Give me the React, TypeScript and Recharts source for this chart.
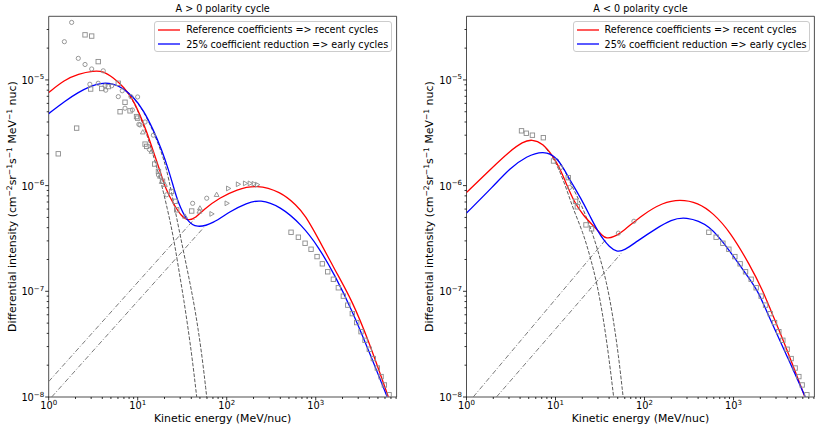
import React from 'react';
import { ComposedChart, Line, Scatter, XAxis, YAxis, ReferenceArea, Legend, Customized } from 'recharts';

type Pt = [number, number];

// ---- A > 0 panel ----
const posRef: Pt[] = [
  [1, 7.6e-6], [1.5, 1.0e-5], [2.15, 1.14e-5], [3.2, 1.22e-5], [4.1, 1.21e-5], [5.3, 1.05e-5],
  [6.9, 8.65e-6], [8.9, 6.5e-6], [10.6, 4.67e-6], [12.6, 3.25e-6], [15, 2.1e-6], [17.9, 1.36e-6],
  [20.8, 9.1e-7], [25, 6.8e-7], [31, 5.1e-7], [37, 4.65e-7], [45, 4.95e-7], [54, 5.9e-7],
  [84, 7.7e-7], [129, 9.2e-7], [216, 1.02e-6], [400, 8.8e-7], [612, 6.5e-7], [759, 5.25e-7],
  [1070, 3.16e-7], [1650, 1.58e-7], [2537, 8.3e-8], [3900, 3.47e-8], [6545, 1.0e-8],
];
const posLow: Pt[] = [
  [1, 4.8e-6], [1.52, 6.3e-6], [2.15, 7.65e-6], [3.04, 8.8e-6], [3.77, 9.35e-6], [5.3, 9.3e-6],
  [6.9, 8.3e-6], [8.9, 6.95e-6], [11.6, 5.2e-6], [15, 3.37e-6], [18.6, 2.18e-6], [22.2, 1.41e-6],
  [25, 1.0e-6], [28.6, 6.8e-7], [35.5, 4.65e-7], [46, 3.95e-7], [71, 4.4e-7], [108, 5.7e-7],
  [168, 6.85e-7], [236, 7.4e-7], [397, 6.4e-7], [697, 4.25e-7], [1070, 2.65e-7], [1648, 1.41e-7],
  [2537, 6.7e-8], [3900, 2.8e-8], [6350, 1.0e-8],
];
const posRefJov: Pt[] = [
  [6.9, 8.55e-6], [8.9, 6.4e-6], [10.6, 4.55e-6], [12.6, 3.1e-6], [15, 1.92e-6], [17.9, 1.15e-6],
  [19.4, 8.7e-7], [21.2, 6.4e-7], [25, 3.4e-7], [28.6, 1.7e-7], [33, 8.3e-8], [38, 3.7e-8],
  [42, 1.95e-8], [46, 1.0e-8],
];
const posLowJov: Pt[] = [
  [6.9, 8.25e-6], [8.9, 6.9e-6], [11.6, 5.1e-6], [15, 3.25e-6], [18.6, 2.05e-6], [21, 1.45e-6],
  [24.1, 8.5e-7], [29, 3.9e-7], [35.5, 1.7e-7], [42, 8.5e-8], [48, 4.3e-8], [54, 2.1e-8],
  [59.6, 1.0e-8],
];
const posRefGcr: Pt[] = [[1, 1.4e-8], [45, 5.0e-7]];
const posLowGcr: Pt[] = [[1.08, 1.0e-8], [55, 4.0e-7]];

const posCircles: Pt[] = [
  [1.5, 2.3e-5], [1.81, 3.5e-5], [2.15, 1.6e-5], [2.56, 1.4e-5], [3.04, 1.27e-5], [4.1, 1.22e-5],
  [2.9, 9.1e-6], [3.6, 9.3e-6], [4.3, 8.8e-6], [4.37, 8.0e-6], [5.1, 8.8e-6], [6.05, 6.95e-6],
  [6.7, 7.9e-6], [7.2, 5.4e-6], [8.4, 6.95e-6], [9.98, 6.9e-6], [8.7, 5.2e-6], [10.6, 3.75e-6],
  [10.3, 3.8e-6], [12.1, 4.0e-6], [15, 3.0e-6], [13.5, 2.2e-6], [17.1, 1.26e-6], [21.2, 8.2e-7],
  [41.4, 6.8e-7], [59.6, 7.6e-7],
];
const posSquares: Pt[] = [
  [1.28, 2.0e-6], [2.06, 3.5e-6], [2.56, 2.67e-5], [3.04, 2.6e-5], [3.6, 1.49e-5], [2.96, 8.2e-6],
  [3.94, 8.3e-6], [4.67, 8.65e-6], [6.05, 9.3e-6], [6.34, 5.0e-6], [7.2, 6.15e-6], [8.2, 5.1e-6],
  [9.7, 4.5e-6], [9.98, 4.35e-6], [12.1, 2.47e-6], [12.6, 2.35e-6], [15.5, 1.6e-6], [17.1, 1.36e-6],
  [19, 1.1e-6], [24, 8.8e-7], [26.3, 7.1e-7], [27.4, 5.9e-7], [40.4, 5.75e-7],
];
const posTriUp: Pt[] = [
  [11.4, 3.2e-6], [14.3, 2.1e-6], [17.8, 1.22e-6], [18.6, 1.09e-6], [20.2, 1.02e-6],
  [34, 5.1e-7], [49.3, 5.7e-7], [50, 6.1e-7], [77, 8.2e-7],
];
const posTriRight: Pt[] = [
  [67.6, 5.4e-7], [100, 6.8e-7], [104, 9.4e-7], [134, 1.03e-6], [161, 1.05e-6], [182, 1.05e-6],
  [202, 1.04e-6], [220, 1.02e-6],
];

// high energy squares (both panels)
const highSquares: Pt[] = [
  [528, 3.62e-7], [638, 3.25e-7], [759, 2.85e-7], [886, 2.5e-7], [1035, 2.13e-7], [1186, 1.82e-7],
  [1364, 1.53e-7], [1578, 1.3e-7], [1795, 1.08e-7], [2043, 9.0e-8], [2290, 7.4e-8], [2577, 6.15e-8],
  [2888, 5.06e-8], [3228, 4.15e-8], [3579, 3.44e-8], [4000, 2.83e-8], [4437, 2.31e-8],
  [4922, 1.88e-8], [5418, 1.56e-8], [5903, 1.3e-8], [6668, 1.05e-8],
];

// ---- A < 0 panel ----
const negRef: Pt[] = [
  [1, 8.6e-7], [1.99, 1.51e-6], [3.07, 2.12e-6], [4.3, 2.6e-6], [5.4, 2.75e-6], [7.2, 2.52e-6],
  [9.4, 1.9e-6], [11.2, 1.45e-6], [13.5, 1.0e-6], [15.8, 7.3e-7], [20.4, 5.2e-7], [28.9, 3.9e-7],
  [33, 3.4e-7], [37.4, 3.15e-7], [45, 3.25e-7], [57.5, 3.7e-7], [96, 5.35e-7], [160, 6.9e-7],
  [249, 7.45e-7], [400, 6.9e-7], [590, 5.5e-7], [908, 3.7e-7], [1524, 1.78e-7], [2150, 1.0e-7],
  [2560, 6.9e-8], [3940, 2.9e-8], [6330, 1.0e-8],
];
const negLow: Pt[] = [
  [1, 5.5e-7], [1.99, 9.8e-7], [3.07, 1.46e-6], [4.73, 1.9e-6], [7.3, 2.14e-6], [10.5, 1.88e-6],
  [14.5, 1.13e-6], [19, 7.8e-7], [25.4, 4.8e-7], [30, 3.7e-7], [34.3, 3.1e-7], [40, 2.65e-7],
  [48.4, 2.35e-7], [60, 2.45e-7], [81, 2.95e-7], [136, 3.95e-7], [200, 4.75e-7], [284, 5.1e-7],
  [542, 4.3e-7], [908, 2.4e-7], [1524, 1.3e-7], [1890, 1.0e-7], [2560, 5.5e-8], [3940, 2.5e-8],
  [6400, 1.0e-8],
];
const negRefJov: Pt[] = [
  [7.2, 2.45e-6], [9.4, 1.85e-6], [11.2, 1.36e-6], [13.5, 9.0e-7], [15.8, 6.0e-7], [20.4, 3.6e-7],
  [24.6, 2.1e-7], [28.9, 1.24e-7], [34, 6.0e-8], [39.5, 2.5e-8], [45, 1.0e-8],
];
const negLowJov: Pt[] = [
  [10.5, 1.8e-6], [13, 1.35e-6], [14.5, 1.07e-6], [19, 7.0e-7], [25.4, 3.8e-7], [31, 2.2e-7],
  [37.4, 1.24e-7], [44, 5.9e-8], [51, 2.5e-8], [57.5, 1.0e-8],
];
const negRefGcr: Pt[] = [[1.19, 1.0e-8], [37.4, 3.15e-7]];
const negLowGcr: Pt[] = [[2.17, 1.0e-8], [55, 2.3e-7]];

const negSquares: Pt[] = [
  [4.15, 3.3e-6], [4.7, 3.13e-6], [5.5, 3.0e-6], [7.3, 2.84e-6], [9.5, 1.71e-6], [13.9, 1.19e-6],
  [16.8, 7.1e-7], [17.6, 6.3e-7], [22, 4.25e-7], [25.4, 3.9e-7],
];
const negCircles: Pt[] = [[11.4, 1.48e-6], [14.4, 9.6e-7], [50.8, 3.55e-7], [76, 4.6e-7]];

const legendLabels = ['Reference coefficients => recent cycles', '25% coefficient reduction => early cycles'];
const legendColors = ['#ff0000', '#0000ff'];

const FONT = '"DejaVu Sans", sans-serif';
const GRAY = '#8c8c8c';
const X_MAX = 8100;
const Y_MIN = 1e-8;
const Y_MAX = 4e-5;

const xTicks: number[] = [];
[1, 10, 100, 1000].forEach((d) => [1, 2, 3, 4, 5, 6, 7, 8, 9].forEach((m) => { if (m * d < X_MAX) xTicks.push(m * d); }));
const yTicks: number[] = [];
[1e-8, 1e-7, 1e-6, 1e-5].forEach((d) => [1, 2, 3, 4, 5, 6, 7, 8, 9].forEach((m) => { if (m * d < Y_MAX * 0.99) yTicks.push(m * d); }));

const pts = (a: Pt[]) => a.map(([x, y]) => ({ x, y }));

const isMajor = (v: number) => {
  const e = Math.log10(v);
  return Math.abs(e - Math.round(e)) < 1e-6;
};
const expText = (v: number) => {
  const e = Math.round(Math.log10(v));
  return e < 0 ? '\u2212' + Math.abs(e) : String(e);
};

const XTick = (props: any) => {
  const { x, y, payload } = props;
  const major = isMajor(payload.value);
  return (
    <g>
      <line x1={x} y1={y} x2={x} y2={y + (major ? 3.5 : 2)} stroke="#000" strokeWidth={0.8} />
      {major && (
        <text x={x} y={y + 12.3} textAnchor="middle" fontSize={9.8} fontFamily={FONT} fill="#000">
          10<tspan dy={-4} fontSize={7}>{expText(payload.value)}</tspan>
        </text>
      )}
    </g>
  );
};

const YTick = (props: any) => {
  const { x, y, payload } = props;
  const major = isMajor(payload.value);
  return (
    <g>
      <line x1={x} y1={y} x2={x - (major ? 3.5 : 2)} y2={y} stroke="#000" strokeWidth={0.8} />
      {major && (
        <text x={x - 4.5} y={y + 4} textAnchor="end" fontSize={9.8} fontFamily={FONT} fill="#000">
          10<tspan dy={-4.5} fontSize={7}>{expText(payload.value)}</tspan>
        </text>
      )}
    </g>
  );
};

const CircleMark = (p: any) => <circle cx={p.cx} cy={p.cy} r={2.1} fill="none" stroke={GRAY} strokeWidth={0.9} />;
const SquareMark = (p: any) => (
  <rect x={p.cx - 2.2} y={p.cy - 2.2} width={4.4} height={4.4} fill="none" stroke={GRAY} strokeWidth={0.9} />
);
const TriUpMark = (p: any) => (
  <polygon points={`${p.cx},${p.cy - 2.6} ${p.cx - 2.4},${p.cy + 1.7} ${p.cx + 2.4},${p.cy + 1.7}`} fill="none" stroke={GRAY} strokeWidth={0.9} />
);
const TriRightMark = (p: any) => (
  <polygon points={`${p.cx + 2.6},${p.cy} ${p.cx - 1.7},${p.cy - 2.4} ${p.cx - 1.7},${p.cy + 2.4}`} fill="none" stroke={GRAY} strokeWidth={0.9} />
);

const LegendBox = () => (
  <div
    style={{
      width: 237.4, height: 31.6, boxSizing: 'border-box', border: '1px solid #cccccc', borderRadius: 3,
      background: 'rgba(255,255,255,0.8)', position: 'relative', fontFamily: FONT, fontSize: 9.6, color: '#000',
    }}
  >
    {legendLabels.map((label, i) => (
      <div
        key={label}
        style={{ position: 'absolute', left: 3.2, top: 1.3 + i * 14.3, height: 14, display: 'flex', alignItems: 'center', whiteSpace: 'nowrap' }}
      >
        <svg width={22} height={4} style={{ marginRight: 5.7, display: 'block' }}>
          <line x1={0} y1={2} x2={22} y2={2} stroke={legendColors[i]} strokeWidth={1.3} />
        </svg>
        <span>{label}</span>
      </div>
    ))}
  </div>
);

type PanelProps = {
  title: string;
  width: number;
  axisWidth: number;
  marginRight: number;
  legendLeft: number;
  ref: Pt[];
  low: Pt[];
  refJov: Pt[];
  lowJov: Pt[];
  refGcr: Pt[];
  lowGcr: Pt[];
  circles: Pt[];
  squares: Pt[];
  triUp: Pt[];
  triRight: Pt[];
};

const TOP = 16.3;
const BOTTOM = 397;

const Panel = (p: PanelProps) => {
  const plotRight = p.width - p.marginRight;
  const cx = (p.axisWidth + plotRight) / 2;
  const cy = (TOP + BOTTOM) / 2;
  const yl = p.axisWidth - 33;
  const sup = (s: string) => <tspan dy={-4} fontSize={7.6}>{s}</tspan>;
  const back = (s: string) => <tspan dy={4}>{s}</tspan>;
  return (
    <ComposedChart width={p.width} height={430} margin={{ top: TOP, right: p.marginRight, bottom: 0, left: 0 }}>
      <XAxis
        dataKey="x" type="number" scale="log" domain={[1, X_MAX]} allowDataOverflow ticks={xTicks} interval={0}
        tickSize={0} tickMargin={0} axisLine={false} tickLine={false} height={430 - BOTTOM} tick={(t: any) => <XTick {...t} />}
      />
      <YAxis
        type="number" scale="log" domain={[Y_MIN, Y_MAX]} allowDataOverflow ticks={yTicks} interval={0}
        tickSize={0} tickMargin={0} axisLine={false} tickLine={false} width={p.axisWidth} tick={(t: any) => <YTick {...t} />}
      />
      <Scatter data={pts(p.circles)} dataKey="y" shape={CircleMark} isAnimationActive={false} />
      <Scatter data={pts(p.squares)} dataKey="y" shape={SquareMark} isAnimationActive={false} />
      <Scatter data={pts(highSquares)} dataKey="y" shape={SquareMark} isAnimationActive={false} />
      <Scatter data={pts(p.triUp)} dataKey="y" shape={TriUpMark} isAnimationActive={false} />
      <Scatter data={pts(p.triRight)} dataKey="y" shape={TriRightMark} isAnimationActive={false} />
      <Line data={pts(p.refGcr)} dataKey="y" type="linear" stroke="#7a7a7a" strokeWidth={1} strokeDasharray="5 2 1 2" dot={false} isAnimationActive={false} />
      <Line data={pts(p.lowGcr)} dataKey="y" type="linear" stroke="#7a7a7a" strokeWidth={1} strokeDasharray="5 2 1 2" dot={false} isAnimationActive={false} />
      <Line data={pts(p.refJov)} dataKey="y" type="basis" stroke="#5a5a5a" strokeWidth={1} strokeDasharray="3.7 1.6" dot={false} isAnimationActive={false} />
      <Line data={pts(p.lowJov)} dataKey="y" type="basis" stroke="#5a5a5a" strokeWidth={1} strokeDasharray="3.7 1.6" dot={false} isAnimationActive={false} />
      <Line data={pts(p.ref)} dataKey="y" type="basis" stroke="#ff0000" strokeWidth={1.3} dot={false} isAnimationActive={false} />
      <Line data={pts(p.low)} dataKey="y" type="basis" stroke="#0000ff" strokeWidth={1.3} dot={false} isAnimationActive={false} />
      <ReferenceArea x1={1} x2={X_MAX} y1={Y_MIN} y2={Y_MAX} fill="none" stroke="#222" strokeWidth={0.8} ifOverflow="visible" />
      <Legend
        layout="vertical" align="center" verticalAlign="middle" content={() => <LegendBox />}
        wrapperStyle={{ position: 'absolute', left: p.legendLeft, top: 20.7, width: 237.4, height: 31.6 }}
      />
      <Customized
        component={() => (
          <g fontFamily={FONT} fill="#000">
            <text x={cx} y={12.3} textAnchor="middle" fontSize={9.6}>{p.title}</text>
            <text x={cx} y={422} textAnchor="middle" fontSize={10.9}>Kinetic energy (MeV/nuc)</text>
            <text x={yl} y={cy} textAnchor="middle" fontSize={10.9} transform={`rotate(-90 ${yl} ${cy})`}>
              Differential intensity (cm{sup('\u22122')}{back('sr')}{sup('\u22121')}{back('s')}{sup('\u22121')}{back(' MeV')}{sup('\u22121')}{back(' nuc)')}
            </text>
          </g>
        )}
      />
    </ComposedChart>
  );
};

export default function App() {
  return (
    <div style={{ position: 'absolute', left: 0, top: 0, width: 822, height: 430, background: '#fff' }}>
      <div style={{ position: 'absolute', left: 0, top: 0 }}>
        <Panel
          title="A > 0 polarity cycle" width={410} axisWidth={48.7} marginRight={13.4} legendLeft={154.3}
          ref={posRef} low={posLow} refJov={posRefJov} lowJov={posLowJov} refGcr={posRefGcr} lowGcr={posLowGcr}
          circles={posCircles} squares={posSquares} triUp={posTriUp} triRight={posTriRight}
        />
      </div>
      <div style={{ position: 'absolute', left: 410, top: 0 }}>
        <Panel
          title="A < 0 polarity cycle" width={412} axisWidth={56.5} marginRight={7.6} legendLeft={162.7}
          ref={negRef} low={negLow} refJov={negRefJov} lowJov={negLowJov} refGcr={negRefGcr} lowGcr={negLowGcr}
          circles={negCircles} squares={negSquares} triUp={[]} triRight={[]}
        />
      </div>
    </div>
  );
}
